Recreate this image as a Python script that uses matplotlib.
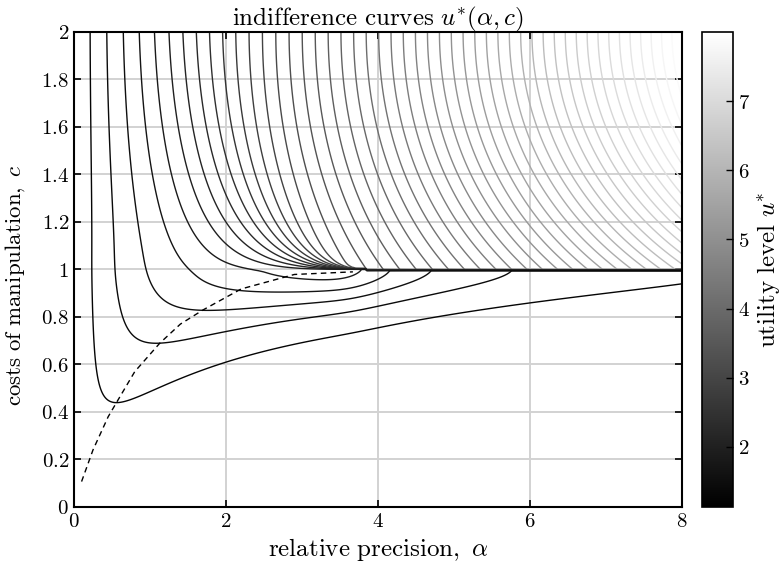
import numpy as np
import matplotlib
matplotlib.use('Agg')
import matplotlib.pyplot as plt
from matplotlib.ticker import FuncFormatter
from matplotlib.cm import ScalarMappable

plt.rcParams['mathtext.fontset'] = 'cm'
plt.rcParams['font.family'] = ['DejaVu Serif']

# ==========================================
# Data
# ==========================================
# dashed locus of the curve minima
dash_alpha = [0.1, 0.25, 0.45, 0.56, 0.8, 1.13, 1.4, 1.7, 2.2, 2.9, 3.67]
dash_c = [0.107, 0.24, 0.38, 0.44, 0.57, 0.69, 0.77, 0.83, 0.918, 0.979, 0.99]

# colour range of the utility level and number of contour lines
u_lo, u_hi = 1.13, 8.0
n_lines = 48

x_ticks = [0, 2, 4, 6, 8]
y_ticks = [0, 0.2, 0.4, 0.6, 0.8, 1, 1.2, 1.4, 1.6, 1.8, 2]
cbar_ticks = [2, 3, 4, 5, 6, 7]

# ==========================================
# Utility field u*(alpha, c)
# ==========================================
phi1 = 0.78      # precision kept at c = 1 (no manipulation branch)
m_coef = 0.59    # manipulation loss coefficient
n_coef = 1.8
a_j = 3.65       # where the loss at c = 1 starts to grow
a_p = 3.85       # where the two branches split
lam0 = 1.0
sig0 = 0.06

a = np.linspace(0.1, 8, 700)
c = np.linspace(0.0, 2, 401)
A, C = np.meshgrid(a, c)
cc = np.clip(C, 1e-3, None)

t = np.clip(1 - cc, 0, None) / cc
jump = 0.8 * 0.15 * np.log1p(np.exp((A - a_j) / 0.15))
below = 1 / (1 / A + m_coef / cc**1.6 + n_coef * t**1.9 * A**2 + jump)

far = A * (1 - (1 - phi1) * (2 - C)**2)
b1 = 1 / (1 / A + m_coef + jump)
lam = lam0 * np.clip(1 - A / a_p, 0, None)**2
wgt = np.where(lam > 0, np.exp(-(C - 1) / np.maximum(lam, 1e-9)), 0.0)
above = far + (b1 - far) * wgt

a_eff = np.where(C < 1, below, above)
U = u_lo + 0.68 * a_eff + 0.0223 * a_eff**2

# soften the seam at c = 1 left of the split point
dc = c[1] - c[0]
for j, aj in enumerate(a):
    sig = sig0 * max(1 - aj / a_p, 0)**2
    if sig < dc:
        continue
    s = sig / dc
    half = int(4 * s) + 1
    k = np.exp(-0.5 * (np.arange(-half, half + 1) / s)**2)
    k /= k.sum()
    sm = np.convolve(np.pad(U[:, j], half, mode='edge'), k, mode='valid')
    mask = np.exp(-0.5 * ((c - 1) / (2.5 * sig))**2)
    U[:, j] = U[:, j] + (sm - U[:, j]) * mask

levels = np.linspace(u_lo, u_hi, n_lines + 2)[1:-1]

# ==========================================
# Plot
# ==========================================
fig = plt.figure(figsize=(7.82, 5.65), dpi=100)
ax = fig.add_axes([0.0946, 0.1027, 0.7775, 0.8407])
cax = fig.add_axes([0.8977, 0.1027, 0.0396, 0.8407])

cmap = plt.get_cmap('gray')
norm = plt.Normalize(u_lo, u_hi)

ax.grid(True, color='#d2d2d2', lw=1.4)
ax.set_axisbelow(True)

# darker lines drawn last so they sit on top
for lev in levels[::-1]:
    ax.contour(A, C, U, levels=[lev], colors=[cmap(norm(lev))],
               linewidths=1.0)

ax.plot(dash_alpha, dash_c, color='k', lw=1.0, dashes=(4, 3))

ax.set_xlim(0, 8)
ax.set_ylim(0, 2)
ax.set_xticks(x_ticks)
ax.set_yticks(y_ticks)
fmt = FuncFormatter(lambda v, p: '$%g$' % np.round(v, 2))
ax.xaxis.set_major_formatter(fmt)
ax.yaxis.set_major_formatter(fmt)
ax.tick_params(direction='in', length=5, width=1.2, labelsize=15,
               top=True, right=True)
for s in ax.spines.values():
    s.set_linewidth(1.5)

ax.set_xlabel(r'$\mathrm{relative\ precision,}\ \alpha$', fontsize=18)
ax.set_ylabel(r'$\mathrm{costs\ of\ manipulation,}\ c$', fontsize=16.5)
ax.yaxis.set_label_coords(-0.077, 0.467)
ax.set_title(r'$\mathrm{indifference\ curves}\ u^{*}(\alpha,c)$',
             fontsize=18, pad=5)

cb = fig.colorbar(ScalarMappable(norm=norm, cmap=cmap), cax=cax)
cb.set_ticks(cbar_ticks)
cb.ax.yaxis.set_major_formatter(FuncFormatter(lambda v, p: '$%g$' % v))
cb.ax.tick_params(direction='in', length=5, width=1.0, labelsize=15)
cb.outline.set_linewidth(1.2)
cb.set_label(r'$\mathrm{utility\ level}\ u^{*}$', fontsize=18)

fig.savefig('out.png', dpi=100)
